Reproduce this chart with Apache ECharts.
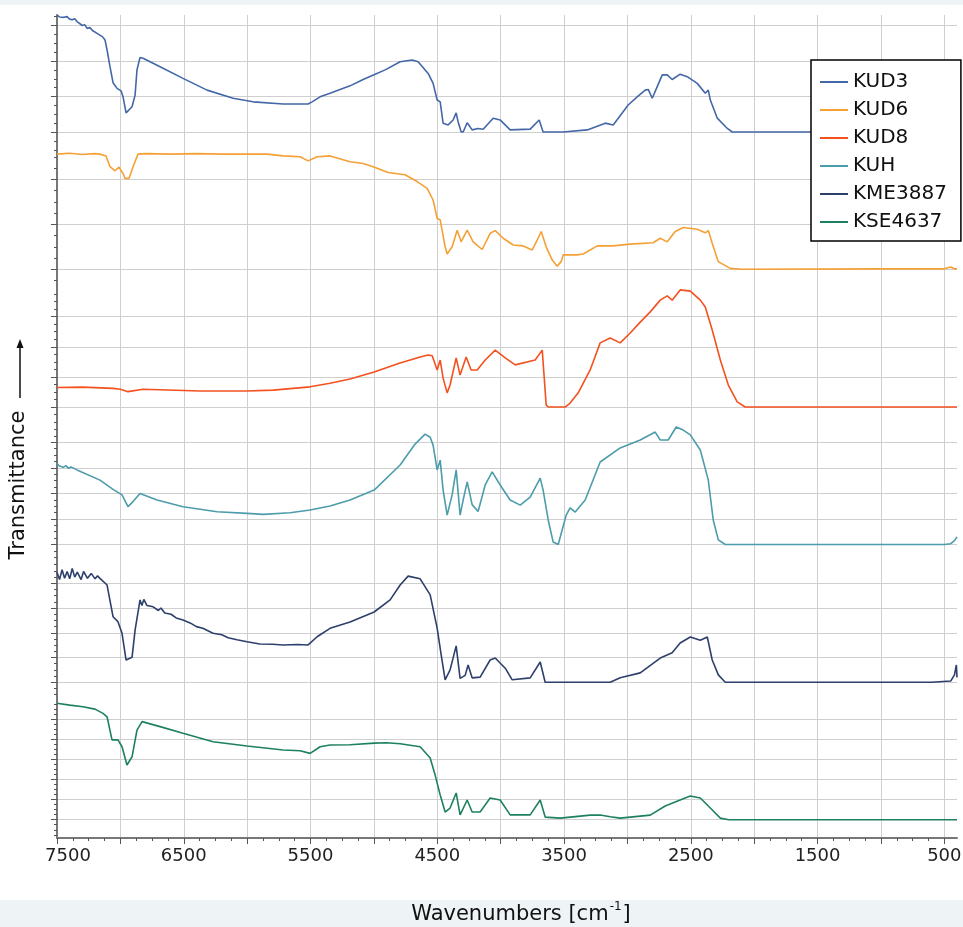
<!DOCTYPE html>
<html><head><meta charset="utf-8">
<script src="https://cdn.jsdelivr.net/npm/echarts@6/dist/echarts.min.js"></script>
<style>html,body{margin:0;padding:0;background:#fff}#c{width:963px;height:927px}</style>
</head><body><div id="c"></div>
<script>
// ---- data: [wavenumber (cm-1), transmittance (arb. units per panel)] ----
const seriesNames = ['KUD3', 'KUD6', 'KUD8', 'KUH', 'KME3887', 'KSE4637'];
const seriesColors = ['#4467a8', '#f5a035', '#f4511e', '#4c9cab', '#2d3f6b', '#1e8062'];

const KUD3 = [[7500,33.0],[7480,32.4],[7465,32.9],[7445,32.3],[7421,32.5],[7400,31.8],[7380,31.6],[7360,31.9],[7342,31.1],[7300,30.0],[7280,30.2],[7263,29.2],[7240,29.4],[7220,28.6],[7184,27.8],[7140,26.8],[7121,25.9],[7105,23.1],[7082,18.4],[7058,13.9],[7026,12.3],[6995,11.6],[6979,9.9],[6955,5.4],[6940,5.1],[6908,7.1],[6884,10.4],[6869,17.5],[6845,21.0],[6821,20.8],[6687,18.4],[6506,15.1],[6316,11.8],[6111,9.5],[5953,8.5],[5716,7.9],[5519,7.9],[5488,8.5],[5424,9.9],[5346,10.9],[5188,13.0],[5085,14.8],[4990,16.3],[4911,17.5],[4793,19.8],[4698,20.3],[4651,19.8],[4572,16.5],[4533,13.7],[4501,9.0],[4477,8.5],[4454,2.5],[4414,2.0],[4375,3.4],[4351,5.4],[4336,2.9],[4312,0.1],[4296,0],[4264,2.6],[4225,0.6],[4178,1.0],[4138,0.8],[4059,3.9],[4004,3.4],[3925,0.6],[3767,0.8],[3696,3.4],[3665,0],[3507,0],[3317,0.6],[3175,2.5],[3112,2.0],[2994,7.6],[2923,9.9],[2860,11.8],[2836,12.0],[2804,9.5],[2765,12.8],[2725,16.1],[2686,16.1],[2647,14.8],[2584,16.3],[2528,15.6],[2449,13.7],[2386,10.9],[2362,11.8],[2346,9.0],[2291,3.9],[2212,1.0],[2173,0],[400,0]];

const KUD6 = [[7500,25.6],[7400,25.8],[7300,25.5],[7200,25.7],[7161,25.6],[7113,25.2],[7082,22.8],[7042,21.9],[7011,22.7],[6979,21.3],[6963,20.2],[6932,20.2],[6900,22.8],[6861,25.6],[6800,25.7],[6600,25.6],[6400,25.7],[6200,25.6],[5843,25.6],[5716,25.2],[5582,25.0],[5519,24.1],[5448,25.0],[5346,25.2],[5188,23.9],[5085,23.5],[5006,22.8],[4888,21.5],[4754,21.0],[4659,19.5],[4580,18.0],[4533,15.4],[4501,11.3],[4477,11.0],[4438,5.0],[4422,3.4],[4383,5.0],[4343,8.7],[4312,6.1],[4264,8.7],[4217,6.1],[4146,4.4],[4083,8.0],[4043,8.6],[3980,6.9],[3901,5.4],[3822,5.2],[3751,4.3],[3712,6.5],[3680,8.4],[3641,5.0],[3594,2.1],[3554,0.7],[3523,1.7],[3507,3.2],[3396,3.2],[3349,3.4],[3238,5.2],[3112,5.2],[2978,5.6],[2797,5.9],[2741,6.9],[2686,6.1],[2623,8.4],[2560,9.3],[2449,8.9],[2386,8.1],[2362,8.6],[2331,5.8],[2283,1.7],[2189,0.2],[2100,0],[1000,0.1],[500,0.1],[450,0.5],[420,0.1],[400,0.1]];

const KUD8 = [[7500,6.5],[7300,6.6],[7058,6.2],[7000,5.9],[6940,5.1],[6821,5.9],[6371,5.3],[6001,5.3],[5795,5.6],[5503,6.7],[5346,7.9],[5188,9.3],[4998,11.6],[4800,14.5],[4635,16.6],[4572,17.3],[4540,17.0],[4501,12.3],[4477,15.6],[4454,9.6],[4422,4.7],[4399,7.3],[4351,16.3],[4320,10.6],[4272,16.6],[4233,12.3],[4185,12.3],[4122,15.6],[4043,18.9],[3964,16.3],[3885,14.0],[3728,15.6],[3672,18.9],[3641,0.7],[3625,0],[3491,0],[3452,1.3],[3388,4.7],[3294,12.3],[3215,21.3],[3136,22.9],[3057,21.3],[2978,24.6],[2899,28.2],[2820,31.6],[2741,35.5],[2686,36.9],[2647,35.5],[2584,38.9],[2504,38.5],[2425,35.5],[2386,33.2],[2331,25.6],[2267,15.6],[2204,7.3],[2134,1.7],[2071,0],[400,0]];

const KUH = [[7500,31.8],[7485,30.8],[7470,31.5],[7450,30.2],[7430,30.9],[7410,29.8],[7390,30.3],[7342,29.2],[7161,25.2],[7058,21.6],[6987,19.4],[6940,14.8],[6900,16.8],[6845,20.0],[6711,17.4],[6506,14.8],[6237,12.8],[6001,12.2],[5874,11.8],[5661,12.4],[5503,13.5],[5346,15.1],[5188,17.4],[4998,21.3],[4793,31.1],[4675,39.3],[4596,43.2],[4556,42.0],[4533,38.9],[4501,29.2],[4477,33.0],[4454,21.3],[4422,11.5],[4383,19.4],[4351,29.2],[4320,11.5],[4296,17.4],[4264,24.5],[4225,15.6],[4178,12.9],[4122,23.3],[4067,28.4],[4004,23.3],[3925,17.4],[3846,15.4],[3767,18.5],[3688,26.0],[3665,21.3],[3625,9.6],[3586,1.0],[3546,0],[3515,5.7],[3483,11.5],[3452,14.3],[3412,12.7],[3333,17.4],[3215,32.3],[3057,37.8],[2899,40.9],[2781,44.0],[2741,40.9],[2678,40.9],[2615,46.0],[2560,44.8],[2504,42.9],[2425,37.0],[2362,25.2],[2323,9.6],[2283,1.8],[2228,0],[500,0],[450,0.3],[420,1.5],[400,3.0]];

const KME3887 = [[7500,44.5],[7480,41.5],[7460,45.5],[7440,42.0],[7420,44.8],[7400,41.8],[7380,46.0],[7360,42.5],[7340,44.5],[7310,41.5],[7290,44.8],[7260,42.0],[7230,44.0],[7200,41.8],[7180,43.0],[7161,42.0],[7105,39.3],[7058,26.5],[7019,24.5],[6987,19.8],[6955,9.0],[6908,10.1],[6884,21.1],[6845,33.3],[6830,31.0],[6815,33.5],[6790,31.0],[6742,30.5],[6700,29.0],[6680,30.0],[6650,28.0],[6600,27.5],[6560,26.0],[6506,25.2],[6450,24.0],[6400,22.5],[6350,21.8],[6269,19.8],[6200,19.2],[6150,18.0],[6080,17.2],[6001,16.4],[5900,15.5],[5800,15.4],[5716,15.1],[5600,15.3],[5519,15.1],[5448,18.4],[5346,21.8],[5188,24.4],[4998,28.4],[4872,33.3],[4793,39.3],[4730,42.9],[4635,41.8],[4556,35.3],[4501,21.9],[4469,11.0],[4438,1.0],[4399,5.0],[4351,14.7],[4320,1.6],[4280,2.8],[4257,7.0],[4225,1.8],[4162,2.1],[4083,9.0],[4043,9.8],[3964,5.7],[3909,1.0],[3767,1.8],[3688,8.2],[3649,0],[3136,0],[3057,1.8],[2899,3.8],[2741,9.8],[2647,11.9],[2584,15.9],[2504,18.3],[2425,17.0],[2370,18.3],[2331,9.0],[2283,3.0],[2228,0],[600,0],[450,0.5],[420,3.0],[405,7.0],[400,2.0]];

const KSE4637 = [[7500,57.9],[7400,57.0],[7295,56.2],[7200,55.0],[7137,52.9],[7105,51.2],[7066,39.7],[7019,39.7],[6987,36.3],[6948,27.2],[6908,31.3],[6869,44.6],[6829,48.8],[6687,46.3],[6506,43.0],[6269,38.8],[6001,36.7],[5716,34.7],[5582,34.3],[5503,33.0],[5424,36.3],[5346,37.2],[5188,37.3],[4998,38.1],[4900,38.3],[4793,37.8],[4635,36.3],[4556,30.7],[4517,22.2],[4477,12.3],[4438,3.8],[4399,5.8],[4351,13.3],[4320,2.4],[4264,9.8],[4225,3.8],[4162,3.8],[4083,10.8],[4004,9.8],[3925,2.4],[3767,2.4],[3688,9.8],[3649,1.3],[3530,0.8],[3294,2.3],[3215,2.3],[3136,1.5],[3057,0.8],[2820,2.3],[2702,6.8],[2584,9.8],[2504,11.8],[2425,10.8],[2346,5.8],[2267,0.8],[2200,0],[400,0]];

const seriesData = [KUD3, KUD6, KUD8, KUH, KME3887, KSE4637];

// ---- axis ticks ----
const xLabelValues = [7500, 6500, 5500, 4500, 3500, 2500, 1500, 500];
const xMajorStep = 500, xMinorStep = 125, xMin = 400, xMax = 7500;
const yMajorStep = 10, yMinorStep = 2.5;

// ---- layout (pixels / axis ranges per stacked panel) ----
const panels = [
  {top: 15,  height: 137, min: -5.63, max: 32.96},
  {top: 152, height: 137, min: -4.38, max: 26.07},
  {top: 289, height: 137, min: -6.31, max: 39.2},
  {top: 426, height: 137, min: -7.24, max: 46.38},
  {top: 563, height: 137, min: -7.15, max: 48.2},
  {top: 700, height: 138, min: -9.1,  max: 59.55}
];

const FONT = 'DejaVu Sans';
const axisGray = '#777';
const gridGray = '#cfcfcf';

const xMajors = [];
for (let v = 500; v <= xMax; v += xMajorStep) xMajors.push(v);
const xMinors = [];
for (let v = 500; v <= xMax; v += xMinorStep) if (v % xMajorStep !== 0) xMinors.push(v);

const grids = [], xAxes = [], yAxes = [], series = [];
panels.forEach((p, i) => {
  grids.push({left: 57, right: 6, top: p.top, height: p.height, containLabel: false, outerBoundsMode: 'none'});
  const last = i === panels.length - 1;
  xAxes.push({
    type: 'value', gridIndex: i, min: xMin, max: xMax, inverse: true, position: 'bottom',
    axisLine: {show: last, onZero: false, lineStyle: {color: axisGray, width: 2}},
    axisTick: {show: last, customValues: xMajors, length: 6, lineStyle: {color: '#555', width: 1}},
    axisLabel: {show: last, customValues: xLabelValues,
      formatter: v => (v === xMax ? '{first|' + v + '}' : String(v)),
      rich: {first: {fontFamily: FONT, fontSize: 18, color: '#222', padding: [0, 0, 0, 22]}},
      fontFamily: FONT, fontSize: 18, color: '#222', margin: 9},
    splitLine: {show: true, lineStyle: {color: gridGray, width: 1}}
  });
  const majors = [], minors = [];
  for (let k = Math.ceil(p.min / yMinorStep); k * yMinorStep <= p.max; k++) {
    const v = +(k * yMinorStep).toFixed(4);
    if (k % 4 === 0) majors.push(v); else minors.push(v);
  }
  yAxes.push({
    type: 'value', gridIndex: i, min: p.min, max: p.max, position: 'left',
    axisLine: {show: true, onZero: false, lineStyle: {color: axisGray, width: 2}},
    axisTick: {show: true, customValues: majors, length: 6, lineStyle: {color: '#555', width: 1}},
    axisLabel: {show: false},
    splitLine: {show: true, lineStyle: {color: gridGray, width: 1}}
  });
  yAxes.push({
    type: 'value', gridIndex: i, min: p.min, max: p.max, position: 'left',
    axisLine: {show: false, onZero: false},
    axisTick: {show: true, customValues: minors, length: 3, lineStyle: {color: '#555', width: 1}},
    axisLabel: {show: false},
    splitLine: {show: false}
  });
  series.push({
    name: seriesNames[i], type: 'line', xAxisIndex: i, yAxisIndex: 2 * i,
    data: seriesData[i], showSymbol: false, symbol: 'none', smooth: false,
    lineStyle: {color: seriesColors[i], width: 1.6}, itemStyle: {color: seriesColors[i]},
    clip: true, z: 3
  });
});
// minor x ticks on the bottom panel
xAxes.push({
  type: 'value', gridIndex: panels.length - 1, min: xMin, max: xMax, inverse: true, position: 'bottom',
  axisLine: {show: false, onZero: false},
  axisTick: {show: true, customValues: xMinors, length: 3, lineStyle: {color: '#555', width: 1}},
  axisLabel: {show: false}, splitLine: {show: false}
});

const chart = echarts.init(document.getElementById('c'), null, {renderer: 'canvas'});
chart.setOption({
  animation: false,
  backgroundColor: '#ffffff',
  color: seriesColors,
  grid: grids, xAxis: xAxes, yAxis: yAxes, series: series,
  legend: {
    data: seriesNames, orient: 'vertical', left: 811, top: 60,
    icon: 'rect', itemWidth: 28, itemHeight: 2, itemGap: 8,
    padding: [12, 14, 9, 9],
    backgroundColor: '#fff', borderColor: '#000', borderWidth: 1.5, borderRadius: 0,
    textStyle: {fontFamily: FONT, fontSize: 20, color: '#111', lineHeight: 20},
    selectedMode: false
  },
  graphic: [
    {type: 'rect', left: 0, top: 0, z: -10, shape: {width: 963, height: 5}, style: {fill: '#eef3f6'}},
    {type: 'rect', left: 0, top: 900, z: -10, shape: {width: 963, height: 27}, style: {fill: '#eef3f6'}},
    {type: 'text', x: 521, y: 913, style: {
      text: '{t|Wavenumbers [cm}{s|-1}{t|]}', textAlign: 'center', textVerticalAlign: 'middle',
      rich: {
        t: {font: '21px "DejaVu Sans"', fill: '#111', verticalAlign: 'bottom', lineHeight: 24},
        s: {font: '12px "DejaVu Sans"', fill: '#111', verticalAlign: 'top', lineHeight: 24, padding: [0, 1, 0, 1]}
      }}},
    {type: 'text', x: 19, y: 485, rotation: Math.PI / 2, style: {text: 'Transmittance', font: '21px "DejaVu Sans"', fill: '#111', textAlign: 'center', textVerticalAlign: 'middle'}},
    {type: 'line', shape: {x1: 20, y1: 398, x2: 20, y2: 345}, style: {stroke: '#111', lineWidth: 1.5}},
    {type: 'polygon', shape: {points: [[20, 339], [16.5, 348], [23.5, 348]]}, style: {fill: '#111'}}
  ]
});
</script></body></html>
